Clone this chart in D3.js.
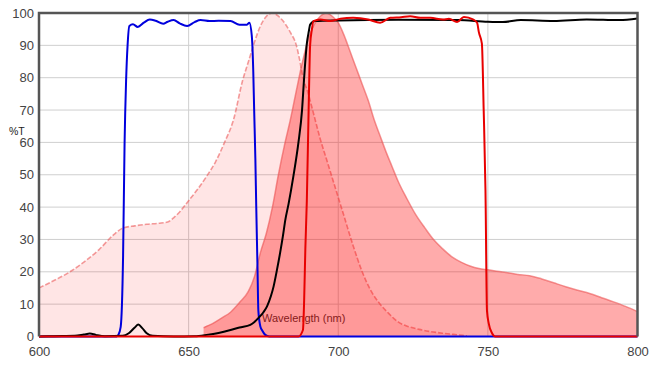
<!DOCTYPE html>
<html>
<head>
<meta charset="utf-8">
<script src="https://cdn.jsdelivr.net/npm/d3@7"></script>
<style>
  body { margin: 0; background: #fff; }
  svg text { font-family: "Liberation Sans", Arial, sans-serif; }
</style>
</head>
<body>
<div id="chart"></div>
<script>
// Spectra, wavelength (nm) vs %T
var xTicks = [600, 650, 700, 750, 800];
var yTicks = [0, 10, 20, 30, 40, 50, 60, 70, 80, 90, 100];

// excitation (light pink, dashed edge)
var exWl  = [600, 605, 610, 615, 620, 625, 628, 632, 636, 640, 643, 645, 647, 650, 653, 656, 659, 662, 665, 668, 670, 672, 674, 676, 678, 680, 682, 684, 686, 687, 688, 690, 692, 694, 696, 698, 700, 702, 705, 708, 711, 714, 717, 720, 723, 727, 731, 735, 740, 743];
var exVal = [15, 17.3, 19.8, 23, 26.8, 31.5, 33.5, 34.2, 34.7, 35, 35.4, 36.7, 38.5, 42, 45.5, 49.5, 54, 60, 67, 79, 85, 91, 96, 99, 100, 99, 97, 94, 90, 86, 81, 75, 68, 61, 55, 49, 43, 37, 28, 20, 14, 10, 7, 4.5, 3.2, 2.2, 1.5, 1, 0.5, 0.2];

// emission (darker pink)
var emWl  = [655, 658, 661, 664, 667, 670, 672, 674, 676, 678, 680, 682, 684, 686, 688, 690, 692, 694, 696, 698, 700, 702, 704, 706, 708, 710, 712, 714, 716, 718, 720, 723, 726, 729, 732, 735, 738, 741, 744, 747, 750, 753, 756, 760, 764, 768, 772, 776, 780, 784, 788, 792, 796, 800];
var emVal = [2.7, 4, 5.7, 7.5, 10.5, 14, 18.5, 26, 32, 40, 50, 59, 67, 76, 84.7, 92, 96.5, 99, 100, 99, 97, 93, 88, 83, 78, 73, 67, 62, 57, 52.5, 48, 42.5, 37.5, 33.5, 29.8, 27, 24.6, 23, 21.8, 21, 20.6, 20.2, 19.8, 19.2, 18.8, 17.8, 16.6, 15.4, 14.3, 13.3, 12, 10.7, 9.3, 7.7];

// excitation filter (blue)
var exfWl  = [600, 626, 626.5, 627.3, 628.1, 628.6, 629.1, 629.6, 630.2, 631.4, 633, 635, 637, 639, 641.5, 643, 645, 647, 649.5, 652, 654, 657, 660, 664, 667, 669.5, 670.3, 671.1, 671.6, 671.9, 672.3, 672.6, 673, 673.3, 674, 674.5, 675.6, 677, 800];
var exfVal = [0, 0, 0.5, 3, 25, 60, 79, 90, 96, 96.5, 95.7, 97, 98, 97.6, 96.7, 97.3, 97.8, 96.8, 96, 97.2, 97.8, 97.5, 97.6, 97.5, 96.4, 96.4, 97, 93, 82, 70, 55, 40, 22, 8, 3, 2, 0.5, 0, 0];

// dichroic long-pass (black)
var dicWl  = [600, 605, 612, 615, 617, 619, 622, 628, 630, 632, 633.2, 634.5, 636, 638, 645, 652, 656, 660, 664, 667, 670.6, 672, 673.3, 675, 676.2, 677.5, 678.4, 679.5, 680.6, 681.5, 682.3, 683.4, 685, 686.7, 687.9, 688.6, 689.5, 690.2, 690.6, 692.3, 700, 720, 740, 750, 755, 761, 772, 783, 794, 800];
var dicVal = [0, 0.1, 0.2, 0.6, 0.9, 0.5, 0.1, 0.2, 1, 2.8, 3.7, 2.6, 1, 0.2, 0, 0.1, 0.5, 1.1, 2, 2.8, 3.6, 4.5, 5.7, 7.5, 9.3, 12.5, 15.5, 20.5, 26, 31, 36, 41, 49.5, 60, 70, 80, 90.5, 94.5, 96.4, 97.5, 97.7, 97.9, 97.8, 97.3, 97.2, 97.8, 97.5, 98, 97.8, 98.3];

// emission filter (red)
var emfWl  = [600, 686.7, 688.2, 688.6, 689, 689.5, 690.1, 690.6, 691.2, 691.7, 694, 697.3, 700.7, 705, 710, 714, 717.4, 721, 724, 727.4, 730.8, 735, 737, 739.7, 742, 745, 746.4, 747, 748, 748.6, 749.2, 749.7, 750.3, 751.4, 752.5, 800];
var emfVal = [0, 0, 2, 11, 27, 42, 70, 90, 95, 97.5, 98, 97.5, 98.2, 98.5, 98, 97, 98.5, 98.7, 99, 98.5, 98.5, 98, 98.2, 97.2, 98.8, 98, 97, 94, 90.5, 70, 45, 8, 4, 1, 0, 0];

var width = 661, height = 369;
var margin = {left: 39, top: 13, right: 23.5, bottom: 32.5};

var svg = d3.select("#chart")
    .append("svg")
    .attr("width", width)
    .attr("height", height);

var x = d3.scaleLinear().domain([600, 800]).range([margin.left, width - margin.right]);
var y = d3.scaleLinear().domain([0, 100]).range([height - margin.bottom, margin.top]);

function pairs(wl, val) {
    return wl.map(function(w, i) { return [w, val[i]]; });
}

// grid
svg.append("g")
    .selectAll("line")
    .data(yTicks.filter(function(d) { return d > 0 && d < 100; }))
    .enter()
    .append("line")
    .attr("x1", x(600)).attr("x2", x(800))
    .attr("y1", y).attr("y2", y)
    .attr("stroke", "#cfcfcf").attr("stroke-width", 1);
svg.append("g")
    .selectAll("line")
    .data(xTicks.filter(function(d) { return d > 600 && d < 800; }))
    .enter()
    .append("line")
    .attr("x1", x).attr("x2", x)
    .attr("y1", y(0)).attr("y2", y(100))
    .attr("stroke", "#cfcfcf").attr("stroke-width", 1);

// axis title inside plot (under the fills)
svg.append("text")
    .attr("x", 262).attr("y", 321.5)
    .attr("font-size", 11).attr("fill", "#333")
    .text("Wavelength (nm)");

svg.append("text")
    .attr("x", 9).attr("y", 134.5)
    .attr("font-size", 10.5).attr("fill", "#222")
    .text("%T");

var area = d3.area()
    .x(function(d) { return x(d[0]); })
    .y0(y(0))
    .y1(function(d) { return y(d[1]); })
    .curve(d3.curveMonotoneX);

var line = d3.line()
    .x(function(d) { return x(d[0]); })
    .y(function(d) { return y(d[1]); })
    .curve(d3.curveMonotoneX);

// excitation spectrum
svg.append("path")
    .datum(pairs(exWl, exVal))
    .attr("d", area)
    .attr("fill", "rgba(255,0,0,0.1)");
svg.append("path")
    .datum(pairs(exWl, exVal))
    .attr("d", line)
    .attr("fill", "none")
    .attr("stroke", "rgba(235,90,90,0.6)")
    .attr("stroke-width", 1.6)
    .attr("stroke-dasharray", "5,2");

// emission spectrum
var emData = pairs(emWl, emVal);
svg.append("path")
    .datum([[emWl[0], 0]].concat(emData))
    .attr("d", area)
    .attr("fill", "rgba(255,0,0,0.33)");
svg.append("path")
    .datum(emData)
    .attr("d", line)
    .attr("fill", "none")
    .attr("stroke", "rgba(235,80,80,0.6)")
    .attr("stroke-width", 1.5);

// filters
svg.append("path")
    .datum(pairs(exfWl, exfVal))
    .attr("d", line)
    .attr("fill", "none")
    .attr("stroke", "#0000dd")
    .attr("stroke-width", 2);

svg.append("path")
    .datum(pairs(dicWl, dicVal))
    .attr("d", line)
    .attr("fill", "none")
    .attr("stroke", "#000")
    .attr("stroke-width", 2);

svg.append("path")
    .datum(pairs(emfWl, emfVal))
    .attr("d", line)
    .attr("fill", "none")
    .attr("stroke", "#e80000")
    .attr("stroke-width", 2);

// frame
svg.append("path")
    .attr("d", "M" + x(600) + "," + y(0) + "V" + y(100) + "H" + x(800) + "V" + y(0))
    .attr("fill", "none")
    .attr("stroke", "#555")
    .attr("stroke-width", 2.5);

// axes labels
var yAxis = d3.axisLeft(y).tickValues(yTicks).tickSize(0).tickPadding(5);
svg.append("g")
    .attr("transform", "translate(" + x(600) + ",0)")
    .call(yAxis)
    .call(function(g) { g.select(".domain").remove(); })
    .selectAll("text")
    .attr("font-size", 13)
    .attr("font-family", "Liberation Sans, Arial, sans-serif")
    .attr("fill", "#444");

var xAxis = d3.axisBottom(x).tickValues(xTicks).tickSize(0).tickPadding(10);
svg.append("g")
    .attr("transform", "translate(0," + y(0) + ")")
    .call(xAxis)
    .call(function(g) { g.select(".domain").remove(); })
    .selectAll("text")
    .attr("font-size", 13)
    .attr("font-family", "Liberation Sans, Arial, sans-serif")
    .attr("fill", "#444");
</script>
</body>
</html>
